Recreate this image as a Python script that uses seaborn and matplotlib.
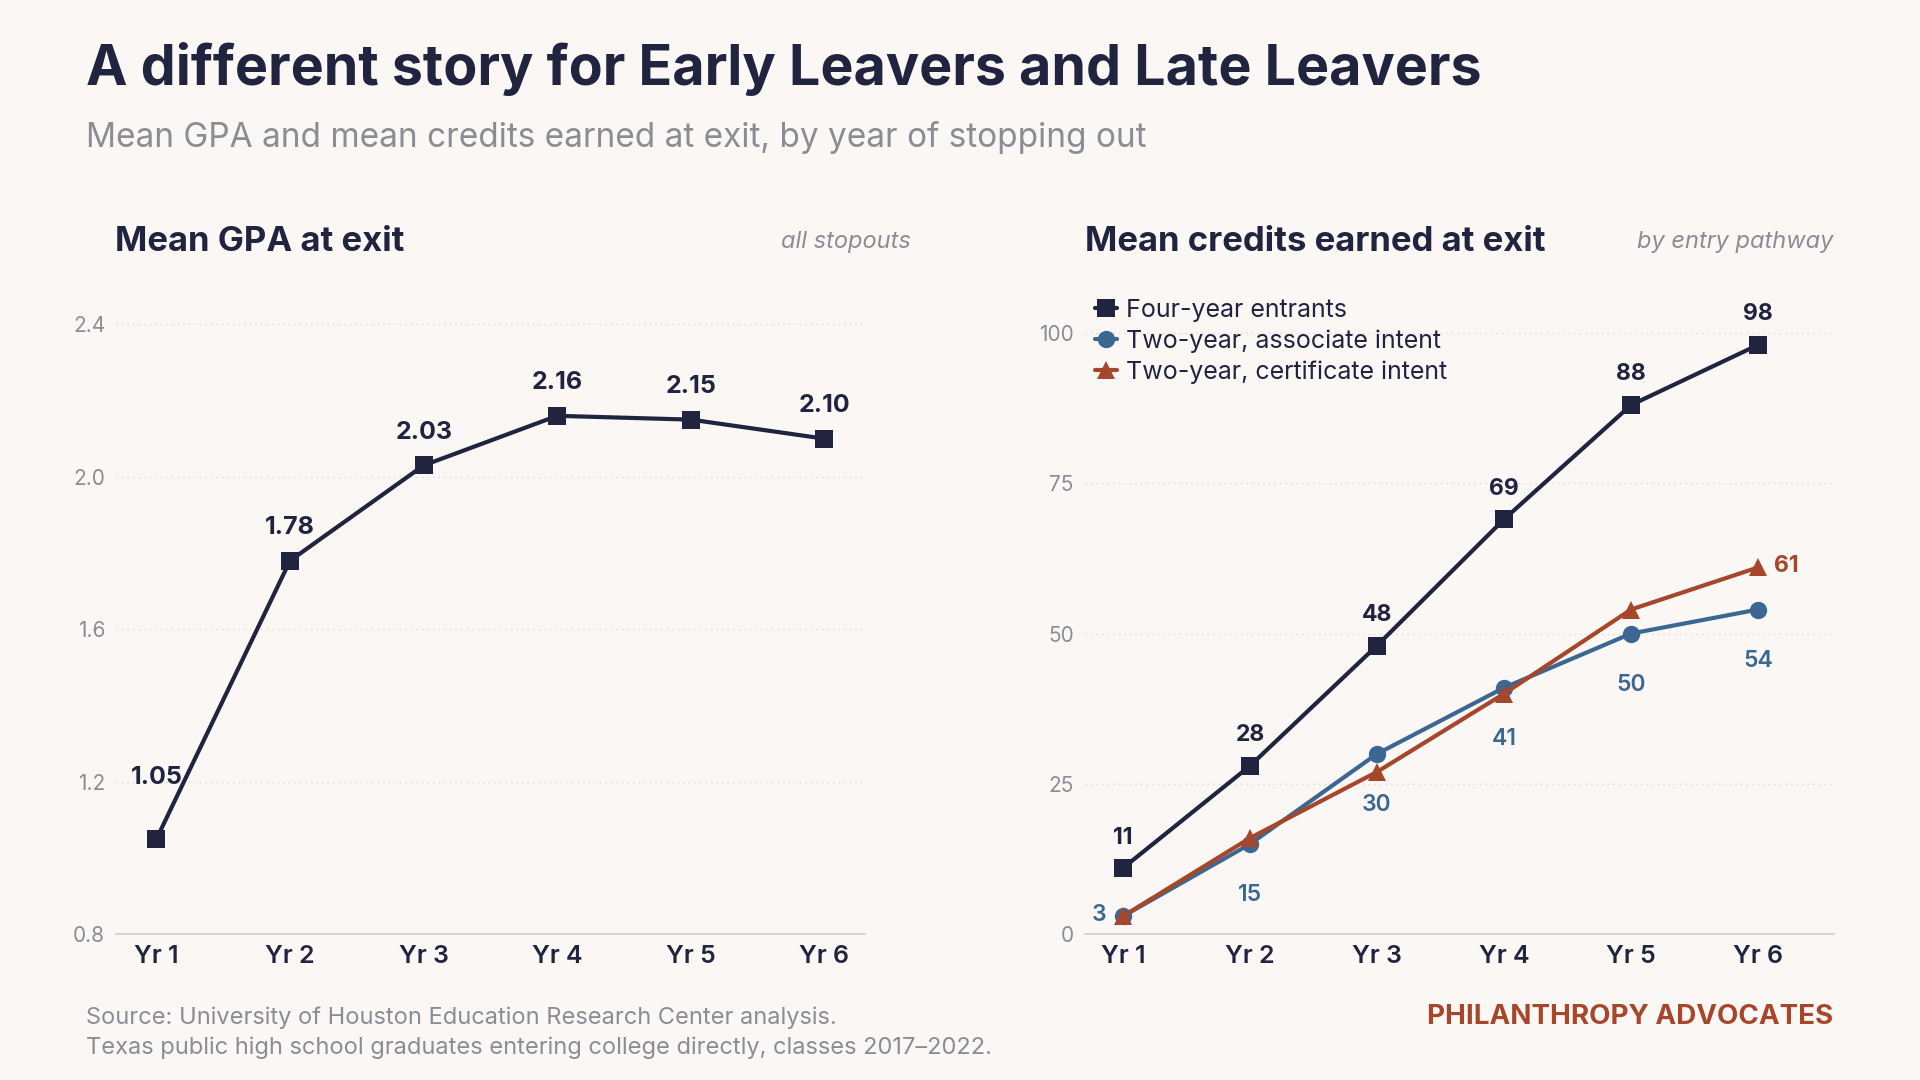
import numpy as np
import pandas as pd
import seaborn as sns
import matplotlib.pyplot as plt

# colours
NAVY = "#20243f"
BLUE = "#3c6793"
RUST = "#a6472b"
GRAY = "#8b8d95"
BG = "#faf7f4"

# data
years = ["Yr 1", "Yr 2", "Yr 3", "Yr 4", "Yr 5", "Yr 6"]
gpa = [1.05, 1.78, 2.03, 2.16, 2.15, 2.10]
four_year = [11, 28, 48, 69, 88, 98]
two_assoc = [3, 15, 30, 41, 50, 54]
two_cert = [3, 16, 27, 40, 54, 61]
series_names = ["Four-year entrants", "Two-year, associate intent",
                "Two-year, certificate intent"]

sns.set_theme(style="white")
plt.rcParams["font.family"] = ["Inter", "DejaVu Sans"]
plt.rcParams["figure.facecolor"] = BG
plt.rcParams["axes.facecolor"] = BG

fig = plt.figure(figsize=(19.2, 10.8), dpi=100)
ax1 = fig.add_axes([0.0606, 0.1349, 0.3897, 0.5987])
ax2 = fig.add_axes([0.565, 0.1349, 0.3904, 0.5987])

# --- left panel: GPA
df_gpa = pd.DataFrame({"x": range(6), "gpa": gpa})
sns.lineplot(data=df_gpa, x="x", y="gpa", ax=ax1, color=NAVY, lw=3,
             marker="s", markersize=12.5, markeredgewidth=0)
for i, v in enumerate(gpa):
    off = 44 if i == 0 else 24
    ax1.annotate(f"{v:.2f}", (i, v), xytext=(0, off), textcoords="offset points",
                 ha="center", va="center", fontsize=18, fontweight="bold", color=NAVY)
ax1.set_xlim(-0.3, 5.3)
ax1.set_ylim(0.8, 2.496)
ax1.set_yticks([0.8, 1.2, 1.6, 2.0, 2.4])
ax1.set_yticklabels(["0.8", "1.2", "1.6", "2.0", "2.4"])

# --- right panel: credits
df_cr = pd.DataFrame({
    "x": list(range(6)) * 3,
    "credits": four_year + two_assoc + two_cert,
    "group": [series_names[0]] * 6 + [series_names[1]] * 6 + [series_names[2]] * 6,
})
pal = {series_names[0]: NAVY, series_names[1]: BLUE, series_names[2]: RUST}
mk = {series_names[0]: "s", series_names[1]: "o", series_names[2]: "^"}
sns.lineplot(data=df_cr, x="x", y="credits", hue="group", style="group",
             palette=pal, markers=mk, dashes=False, ax=ax2, lw=3,
             markersize=12.5, markeredgewidth=0)
for i, v in enumerate(four_year):
    ax2.annotate(str(v), (i, v), xytext=(0, 22), textcoords="offset points",
                 ha="center", va="center", fontsize=16.5, fontweight="bold", color=NAVY)
for i, v in enumerate(two_assoc):
    if i == 0:
        ax2.annotate(str(v), (i, v), xytext=(-17, 1), textcoords="offset points",
                     ha="center", va="center", fontsize=16.5, fontweight="semibold", color=BLUE)
    else:
        ax2.annotate(str(v), (i, v), xytext=(0, -37), textcoords="offset points",
                     ha="center", va="center", fontsize=16.5, fontweight="semibold", color=BLUE)
ax2.annotate(str(two_cert[-1]), (5, two_cert[-1]), xytext=(20, 1), textcoords="offset points",
             ha="center", va="center", fontsize=16.5, fontweight="bold", color=RUST)
ax2.set_xlim(-0.3, 5.6)
ax2.set_ylim(0, 107.5)
ax2.set_yticks([0, 25, 50, 75, 100])

handles, labels = ax2.get_legend_handles_labels()
ax2.legend(handles, labels, loc="upper left", bbox_to_anchor=(-0.007, 1.006),
           frameon=False, fontsize=18, handlelength=0.9, handletextpad=0.35,
           labelspacing=0.3, borderaxespad=0.2, labelcolor=NAVY)

for ax in (ax1, ax2):
    ax.set_xticks(range(6))
    ax.set_xticklabels(years)
    ax.set_xlabel("")
    ax.set_ylabel("")
    for s in ["top", "right", "left"]:
        ax.spines[s].set_visible(False)
    ax.spines["bottom"].set_color("#cfcccb")
    ax.spines["bottom"].set_linewidth(1.2)
    ax.tick_params(axis="x", length=0, pad=8, labelsize=18, labelcolor=NAVY)
    ax.tick_params(axis="y", length=0, pad=8, labelsize=15, labelcolor=GRAY)
    for lab in ax.get_xticklabels():
        lab.set_fontweight("semibold")
    yt = ax.get_yticks()
    for t in yt[1:]:
        ax.axhline(t, color="#dcd9d6", lw=1, ls=(0, (1, 3)), zorder=0)

# --- text
fig.text(0.0446, 0.921, "A different story for Early Leavers and Late Leavers",
         fontsize=40, fontweight="bold", color=NAVY, va="baseline")
fig.text(0.0446, 0.864, "Mean GPA and mean credits earned at exit, by year of stopping out",
         fontsize=24, color=GRAY, va="baseline")
fig.text(0.06, 0.768, "Mean GPA at exit", fontsize=25, fontweight="bold",
         color=NAVY, va="baseline")
fig.text(0.4745, 0.77, "all stopouts", fontsize=17, style="italic",
         color=GRAY, va="baseline", ha="right")
fig.text(0.565, 0.768, "Mean credits earned at exit", fontsize=25, fontweight="bold",
         color=NAVY, va="baseline")
fig.text(0.9547, 0.77, "by entry pathway", fontsize=17, style="italic",
         color=GRAY, va="baseline", ha="right")
fig.text(0.0446, 0.052, "Source: University of Houston Education Research Center analysis.",
         fontsize=17, color=GRAY, va="baseline")
fig.text(0.0446, 0.024,
         "Texas public high school graduates entering college directly, classes 2017\u20132022.",
         fontsize=17, color=GRAY, va="baseline")
fig.text(0.9547, 0.052, "PHILANTHROPY ADVOCATES", fontsize=20, fontweight="bold",
         color=RUST, va="baseline", ha="right")

fig.savefig("out.png", dpi=100, facecolor=BG)
